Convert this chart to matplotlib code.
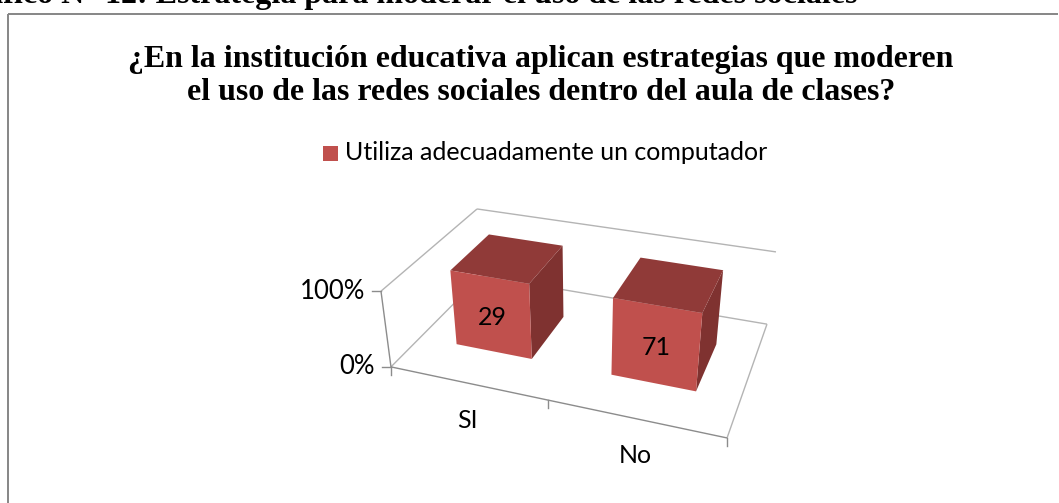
import matplotlib
matplotlib.use('Agg')
import numpy as np
import matplotlib.pyplot as plt
from matplotlib.patches import Polygon, Rectangle

categories = ["SI", "No"]
bar_pct = [100, 100]  # 100% stacked, both full height
bar_labels = ["29", "71"]
legend_label = "Utiliza adecuadamente un computador"
y_ticks = [0, 100]
y_tick_labels = ["0%", "100%"]
title_lines = ["¿En la institución educativa aplican estrategias que moderen",
               "el uso de las redes sociales dentro del aula de clases?"]
caption = "Gráfico N° 12: Estrategia para moderar el uso de las redes sociales"

W, H = 1059, 503
dpi = 100

# camera calibration: world (cat, depth, height) -> picture px, from the box corners
world_pts = np.array([[0, 0, 0], [2, 0, 0], [2, 1, 0], [0, 0, 1], [0, 1, 1], [2, 1, 1]], dtype=float)
pixel_pts = np.array([[391, 367], [727, 438], [767, 324], [381, 291], [477, 209], [776, 252]], dtype=float)


def fit_camera(w, p):
    rows = []
    for (x, y, z), (u, v) in zip(w, p):
        rows.append([x, y, z, 1, 0, 0, 0, 0, -u * x, -u * y, -u * z, -u])
        rows.append([0, 0, 0, 0, x, y, z, 1, -v * x, -v * y, -v * z, -v])
    _, _, vt = np.linalg.svd(np.array(rows))
    return vt[-1].reshape(3, 4)


cam = fit_camera(world_pts, pixel_pts)


def proj(x, y, z):
    q = cam @ np.array([x, y, z, 1.0])
    return q[0] / q[2], q[1] / q[2]


fig = plt.figure(figsize=(W / dpi, H / dpi), dpi=dpi)
ax = fig.add_axes([0, 0, 1, 1])
ax.set_xlim(0, W)
ax.set_ylim(H, 0)
ax.axis('off')

# chart frame, runs off the right and bottom of the crop
ax.plot([8, 8], [H, 13.5], color='#868686', lw=1.4, solid_capstyle='butt')
ax.plot([8, 1058], [13.5, 13.5], color='#868686', lw=1.4, solid_capstyle='butt')

serif = 'Liberation Serif'
ax.text(858, 3, caption, family=serif, weight='bold', fontsize=23, ha='right', va='baseline', color='black')
ax.text(541, 67, title_lines[0], family=serif, weight='bold', fontsize=22.95, ha='center', va='baseline', color='black')
ax.text(541, 100, title_lines[1], family=serif, weight='bold', fontsize=22.95, ha='center', va='baseline', color='black')

# legend
ax.add_patch(Rectangle((323, 146), 15, 15, fc='#C0504D', ec='none'))
ax.text(345, 153, legend_label, family='Lato', fontsize=18, ha='left', va='center', color='black')

# walls and floor lines
grid_c = '#b4b4b4'
axis_c = '#8c8c8c'


def seg(a, b, c=grid_c, lw=1.0, z=1):
    pa, pb = proj(*a), proj(*b)
    ax.plot([pa[0], pb[0]], [pa[1], pb[1]], color=c, lw=lw, zorder=z, solid_capstyle='butt')


ncat = len(categories)
seg((0, 0, 1), (0, 1, 1))
seg((0, 1, 1), (ncat, 1, 1))
seg((0, 0, 0), (0, 1, 0))
seg((0, 1, 0), (ncat, 1, 0))
seg((ncat, 1, 0), (ncat, 0, 0))
seg((0, 0, 0), (0, 0, 1), c=axis_c)
seg((0, 0, 0), (ncat, 0, 0), c=axis_c)

# ticks
for t, lab in zip(y_ticks, y_tick_labels):
    h = t / 100
    u, v = proj(0, 0, h)
    ax.plot([u - 9, u], [v, v], color=axis_c, lw=1.0, zorder=1)
    ax.text(u - 16, v, lab, family='Lato', fontsize=18.5, ha='right', va='center', color='black')
for i in range(ncat + 1):
    u, v = proj(i, 0, 0)
    ax.plot([u, u], [v, v + 8], color=axis_c, lw=1.0, zorder=1)
for i, lab in enumerate(categories):
    u, v = proj(i + 0.5, 0, 0)
    ax.text(u, v + 37, lab, family='Lato', fontsize=18, ha='center', va='center', color='black')

# bars
gap = 0.25
y0, y1 = 0.29, 0.72
for i, (pct, lab) in enumerate(zip(bar_pct, bar_labels)):
    h = pct / 100
    x0, x1 = i + gap, i + 1 - gap
    front = [proj(x0, y0, 0), proj(x1, y0, 0), proj(x1, y0, h), proj(x0, y0, h)]
    top = [proj(x0, y0, h), proj(x1, y0, h), proj(x1, y1, h), proj(x0, y1, h)]
    side = [proj(x1, y0, 0), proj(x1, y1, 0), proj(x1, y1, h), proj(x1, y0, h)]
    ax.add_patch(Polygon(side, fc='#7F3230', ec='none', zorder=3))
    ax.add_patch(Polygon(top, fc='#903A38', ec='none', zorder=3))
    ax.add_patch(Polygon(front, fc='#C0504D', ec='none', zorder=4))
    c = np.mean(front, axis=0)
    ax.text(c[0], c[1] + 3, lab, family='Lato', fontsize=18, ha='center', va='center', color='black', zorder=5)

fig.savefig('out.png', dpi=dpi)
